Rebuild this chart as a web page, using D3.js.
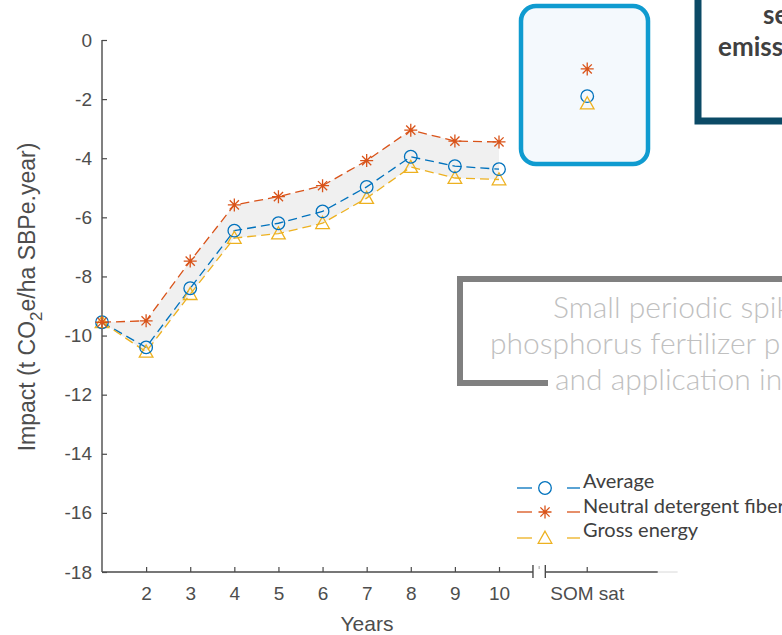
<!DOCTYPE html>
<html>
<head>
<meta charset="utf-8">
<script src="https://cdn.jsdelivr.net/npm/d3@7"></script>
<style>
  body { margin: 0; background: #fff; }
  svg { display: block; }
</style>
</head>
<body>
<svg width="782" height="635"></svg>
<script>
const svg = d3.select("svg");

// data
const years = [1, 2, 3, 4, 5, 6, 7, 8, 9, 10];
const average = [-9.55, -10.4, -8.4, -6.45, -6.2, -5.8, -4.97, -3.95, -4.27, -4.37];
const ndf = [-9.55, -9.5, -7.48, -5.58, -5.3, -4.93, -4.08, -3.05, -3.42, -3.45];
const grossEnergy = [-9.55, -10.55, -8.6, -6.7, -6.55, -6.2, -5.35, -4.3, -4.67, -4.72];
const somSat = { average: -1.9, ndf: -0.98, grossEnergy: -2.15 };
const somPos = 12;
const yTicks = [0, -2, -4, -6, -8, -10, -12, -14, -16, -18];
const xTicks = [2, 3, 4, 5, 6, 7, 8, 9, 10];

const blue = "#0072BD", orange = "#D95319", yellow = "#EDB120";
const axisColor = "#4a4a4a";
const tickFont = "Liberation Sans, Arial, sans-serif";

const x = d3.scaleLinear().domain([1, 10]).range([102, 499]);
const y = d3.scaleLinear().domain([-18, 0]).range([572, 40]);

// marker shapes
const starPath = r => {
  let p = "";
  for (let a = 0; a < 4; a++) {
    const t = a * Math.PI / 4;
    p += `M${-r * Math.cos(t)},${-r * Math.sin(t)}L${r * Math.cos(t)},${r * Math.sin(t)}`;
  }
  return p;
};
const triPath = r => `M0,${-r}L${r},${r * 0.78}L${-r},${r * 0.78}Z`;

function marker(g, kind, cx, cy) {
  if (kind === "circle") {
    g.append("circle").attr("cx", cx).attr("cy", cy).attr("r", 6.3)
      .attr("fill", "none").attr("stroke", blue).attr("stroke-width", 1.3);
  } else if (kind === "star") {
    g.append("path").attr("d", starPath(6.5)).attr("transform", `translate(${cx},${cy})`)
      .attr("fill", "none").attr("stroke", orange).attr("stroke-width", 1.3);
  } else {
    g.append("path").attr("d", triPath(6.8)).attr("transform", `translate(${cx},${cy})`)
      .attr("fill", "none").attr("stroke", yellow).attr("stroke-width", 1.3);
  }
}

// shaded band between NDF and gross energy
const band = years.map((d, i) => ({ x: d, hi: ndf[i], lo: grossEnergy[i] }));
svg.append("path")
  .datum(band)
  .attr("fill", "#f0f0f0")
  .attr("d", d3.area().x(d => x(d.x)).y0(d => y(d.lo)).y1(d => y(d.hi)));

// axes
const yAxis = svg.append("g")
  .attr("transform", `translate(${x(1)},0)`)
  .call(d3.axisLeft(y).tickValues(yTicks).tickFormat(d => String(d))
    .tickSize(-5).tickSizeOuter(0).tickPadding(10));
const xAxis = svg.append("g")
  .attr("transform", `translate(0,${y(-18)})`)
  .call(d3.axisBottom(x).tickValues(xTicks).tickFormat(d => String(d))
    .tickSize(-5).tickSizeOuter(0).tickPadding(15));
[yAxis, xAxis].forEach(a => {
  a.select(".domain").remove();
  a.selectAll("line").attr("stroke", axisColor).attr("stroke-width", 1.2);
  a.selectAll("text").attr("fill", "#4d4d4d").style("font-family", tickFont).style("font-size", "19px");
});

const ax = svg.append("g").attr("stroke", axisColor).attr("stroke-width", 1.4).attr("fill", "none");
ax.append("line").attr("x1", x(1)).attr("x2", x(1)).attr("y1", y(0)).attr("y2", y(-18));
// broken x axis
const brk1 = x(10.77), brk2 = x(11.05);
ax.append("line").attr("x1", x(1)).attr("x2", brk1).attr("y1", y(-18)).attr("y2", y(-18));
ax.append("line").attr("x1", brk1).attr("x2", brk1).attr("y1", y(-18) - 7).attr("y2", y(-18) + 6);
ax.append("line").attr("x1", brk2).attr("x2", brk2).attr("y1", y(-18) - 7).attr("y2", y(-18) + 6);
ax.append("line").attr("x1", (brk1 + brk2) / 2).attr("x2", (brk1 + brk2) / 2)
  .attr("y1", y(-18) - 6).attr("y2", y(-18) - 3).attr("stroke-width", 0.8).attr("stroke", "#888");
ax.append("line").attr("x1", brk2).attr("x2", x(13.6)).attr("y1", y(-18)).attr("y2", y(-18));
ax.append("line").attr("x1", x(13.6)).attr("x2", x(14.05)).attr("y1", y(-18)).attr("y2", y(-18))
  .attr("stroke", "#d8d8d8").attr("stroke-width", 1);
ax.append("line").attr("x1", x(somPos)).attr("x2", x(somPos)).attr("y1", y(-18)).attr("y2", y(-18) - 5)
  .attr("stroke-width", 1.2);
svg.append("text").attr("x", x(somPos)).attr("y", y(-18) + 15).attr("dy", "0.71em")
  .attr("text-anchor", "middle").attr("fill", "#4d4d4d")
  .style("font-family", tickFont).style("font-size", "19px").text("SOM sat");

// axis titles
svg.append("text").attr("x", 367).attr("y", 631).attr("text-anchor", "middle")
  .attr("fill", "#4d4d4d").style("font-family", tickFont).style("font-size", "21px").text("Years");
const yl = svg.append("text").attr("transform", "translate(35,297) rotate(-90)")
  .attr("text-anchor", "middle").attr("fill", "#4d4d4d")
  .style("font-family", tickFont).style("font-size", "23px");
yl.append("tspan").text("Impact (t CO");
yl.append("tspan").attr("dy", 7).style("font-size", "17px").text("2");
yl.append("tspan").attr("dy", -7).text("e/ha SBPe.year)");

// series lines + markers
const series = [
  { name: "Neutral detergent fiber", vals: ndf, color: orange, kind: "star" },
  { name: "Average", vals: average, color: blue, kind: "circle" },
  { name: "Gross energy", vals: grossEnergy, color: yellow, kind: "tri" }
];
const line = d3.line().x(d => x(d[0])).y(d => y(d[1]));
series.forEach(s => {
  svg.append("path").datum(years.map((d, i) => [d, s.vals[i]]))
    .attr("fill", "none").attr("stroke", s.color).attr("stroke-width", 1.3)
    .attr("stroke-dasharray", "9,5").attr("d", line);
});
series.slice().reverse().forEach(s => {
  const g = svg.append("g");
  years.forEach((d, i) => marker(g, s.kind, x(d), y(s.vals[i])));
});

// rounded highlight box over the SOM sat values
svg.append("rect").attr("x", 521).attr("y", 6).attr("width", 127).attr("height", 158).attr("rx", 15)
  .attr("fill", "#f4f9fd").attr("stroke", "#0f9bd0").attr("stroke-width", 4.5);
const som = svg.append("g");
marker(som, "star", x(somPos), y(somSat.ndf));
marker(som, "circle", x(somPos), y(somSat.average));
marker(som, "tri", x(somPos), y(somSat.grossEnergy));

// dark annotation box, top right
svg.append("rect").attr("x", 698).attr("y", -20).attr("width", 140).attr("height", 141)
  .attr("fill", "#fff").attr("stroke", "#0b4a66").attr("stroke-width", 7);
const note = svg.append("text").attr("fill", "#404040").style("font-family", "Lato, sans-serif")
  .style("font-size", "26px").style("font-weight", "bold");
note.append("tspan").attr("x", 763).attr("y", 24).text("sequestration");
note.append("tspan").attr("x", 718).attr("y", 56).text("emissions");

// grey annotation box
svg.append("rect").attr("x", 460).attr("y", 279).attr("width", 400).attr("height", 104)
  .attr("fill", "#fff").attr("stroke", "#808080").attr("stroke-width", 6);
svg.append("rect").attr("x", 548).attr("y", 368).attr("width", 240).attr("height", 30).attr("fill", "#fff");
const grey = svg.append("text").attr("fill", "#c0c0c0").style("font-family", "Lato, sans-serif")
  .style("font-size", "30px").style("font-weight", "300");
grey.append("tspan").attr("x", 553).attr("y", 318).text("Small periodic spikes due to");
grey.append("tspan").attr("x", 490).attr("y", 354).text("phosphorus fertilizer production");
grey.append("tspan").attr("x", 555).attr("y", 390).text("and application in years");

// legend
const legRows = [
  { label: "Average", color: blue, kind: "circle", ty: 481, my: 488 },
  { label: "Neutral detergent fiber", color: orange, kind: "star", ty: 506, my: 512 },
  { label: "Gross energy", color: yellow, kind: "tri", ty: 530, my: 538 }
];
const leg = svg.append("g");
legRows.forEach(r => {
  leg.append("line").attr("x1", 517).attr("x2", 532).attr("y1", r.my).attr("y2", r.my)
    .attr("stroke", r.color).attr("stroke-width", 1.3);
  leg.append("line").attr("x1", 567).attr("x2", 580).attr("y1", r.my).attr("y2", r.my)
    .attr("stroke", r.color).attr("stroke-width", 1.3);
  marker(leg, r.kind, 545, r.my);
  leg.append("text").attr("x", 583).attr("y", r.ty).attr("dy", "0.35em").attr("fill", "#404040")
    .style("font-family", "Lato, sans-serif").style("font-size", "20px").text(r.label);
});
</script>
</body>
</html>
